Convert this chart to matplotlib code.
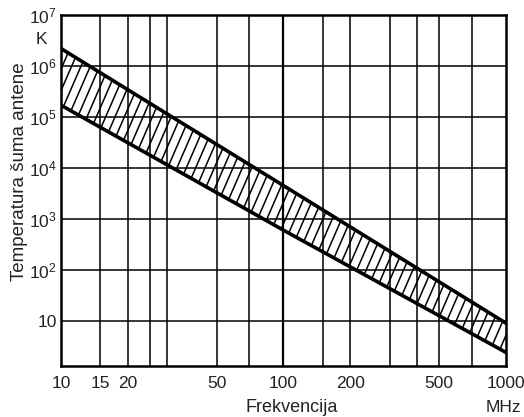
import numpy as np
import matplotlib
matplotlib.use("Agg")
import matplotlib.pyplot as plt
from matplotlib.collections import LineCollection
from matplotlib.ticker import NullLocator

plt.rcParams['font.family'] = ['Liberation Sans', 'DejaVu Sans']
plt.rcParams['mathtext.fontset'] = 'custom'
plt.rcParams['mathtext.rm'] = 'Liberation Sans'

# band of antenna noise temperature
freq = [10, 100, 1000]
upper = [2.2e6, 4.5e3, 9.0]
lower = [1.7e5, 6.0e2, 2.4]

x_ticks = [10, 15, 20, 50, 100, 200, 500, 1000]
x_grid = [15, 20, 25, 30, 50, 70, 100, 150, 200, 300, 400, 500, 700]
y_ticks = [10, 1e2, 1e3, 1e4, 1e5, 1e6, 1e7]
y_labels = ['10', r'$\mathregular{10^2}$', r'$\mathregular{10^3}$', r'$\mathregular{10^4}$',
            r'$\mathregular{10^5}$', r'$\mathregular{10^6}$', r'$\mathregular{10^7}$']

fig = plt.figure(figsize=(5.24, 4.17), dpi=100)
ax = fig.add_axes([0.1164, 0.1223, 0.8492, 0.8417])
ax.set_xscale('log')
ax.set_yscale('log')
ax.set_xlim(10, 1000)
ax.set_ylim(1.3, 1e7)

# grid
for xv in x_grid:
    ax.axvline(xv, color='black', lw=1.6 if xv == 100 else 1.1, zorder=1)
for yv in y_ticks[:-1]:
    ax.axhline(yv, color='black', lw=1.1, zorder=1)

# hatched band (grid stays visible through it)
poly = ax.fill(np.r_[freq, freq[::-1]], np.r_[upper, lower[::-1]],
               facecolor='none', edgecolor='none', zorder=2)[0]
slope = 2.3 * 445 / 351
starts = np.arange(-0.5, 1.05, 0.021)
segs = [[(s, 0), (s + 1 / slope, 1)] for s in starts]
hatch = LineCollection(segs, colors='black', linewidths=1.1,
                       transform=ax.transAxes, zorder=3)
hatch.set_clip_path(poly)
ax.add_collection(hatch)

ax.plot(freq, upper, color='black', lw=2.6, zorder=4)
ax.plot(freq, lower, color='black', lw=2.6, zorder=4)

for s in ax.spines.values():
    s.set_linewidth(1.8)

ax.xaxis.set_minor_locator(NullLocator())
ax.yaxis.set_minor_locator(NullLocator())
ax.set_xticks(x_ticks)
ax.set_xticklabels([str(v) for v in x_ticks])
ax.set_yticks(y_ticks)
ax.set_yticklabels(y_labels)
ax.tick_params(length=0, labelsize=12.5, colors='#222222')
ax.tick_params(axis='x', pad=7)
ax.tick_params(axis='y', pad=3)

ax.set_ylabel('Temperatura šuma antene', fontsize=13.5, color='#222222')
ax.yaxis.set_label_coords(-0.075, 0.553)
ax.text(-0.045, 0.929, 'K', transform=ax.transAxes, fontsize=12.5,
        color='#222222', ha='center', va='center')
fig.text(292 / 524, 1 - 407 / 417, 'Frekvencija', fontsize=13,
         color='#222222', ha='center', va='center')
fig.text(503 / 524, 1 - 407 / 417, 'MHz', fontsize=12.5,
         color='#222222', ha='center', va='center')

fig.savefig('out.png', dpi=100)
